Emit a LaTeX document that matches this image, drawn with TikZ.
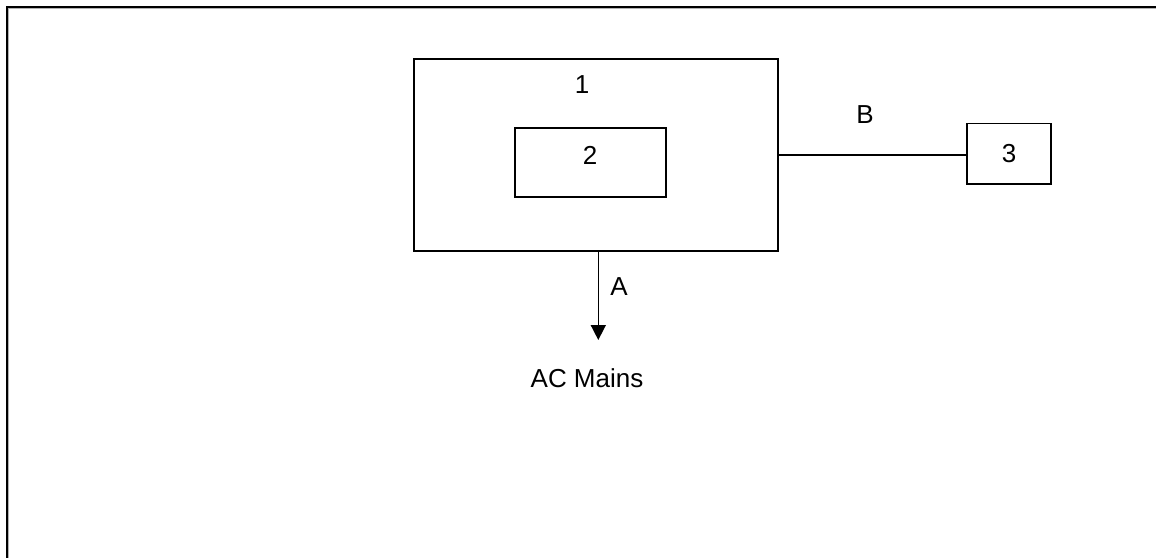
\documentclass[tikz,border=0pt]{standalone}
\usepackage{fontspec}
\setmainfont{Liberation Sans}
\usetikzlibrary{arrows.meta}
\begin{document}
\begin{tikzpicture}[x=1pt,y=-1pt,
  blk/.style={draw=black,line width=1.6pt,inner sep=0pt,fill=white},
  lbl/.style={font=\fontsize{26}{31}\selectfont,inner sep=0pt},
  conn/.style={draw=black,line width=1.6pt}]
\useasboundingbox (0,0) rectangle (1156,557);
\fill[white] (0,0) rectangle (1156,557);
% outer frame (right and bottom edges lie outside the picture)
\draw[gray!60,line width=1pt] (1170,8.5) -- (8.5,8.5) -- (8.5,570);
\draw[black,line width=2pt] (1170,7) -- (6.5,7) -- (6.5,570);
% blocks
\node[blk,minimum width=364pt,minimum height=192pt] (box1) at (596,155) {};
\node[blk,minimum width=151pt,minimum height=69pt] (box2) at (590.5,162.5) {};
\node[blk,minimum width=84.5pt,minimum height=60.7pt,lbl] (box3) at (1009,153.7) {3};
\node[lbl] (l1) at (582,85) {1};
\node[lbl] (l2) at (590,155) {2};
% connector B
\draw[conn,line width=1.3pt] (box1.east) -- (box3.west |- box1.east);
\node[lbl] (lB) at (865,115) {B};
% connector A
\coordinate (tip) at (598.3,340);
\draw[conn,-{Triangle[width=15pt,length=15pt]}] (box1.south -| tip) -- (tip);
\node[lbl] (lA) at (619,287) {A};
\node[lbl] (mains) at (587,378) {AC Mains};
\end{tikzpicture}
\end{document}
